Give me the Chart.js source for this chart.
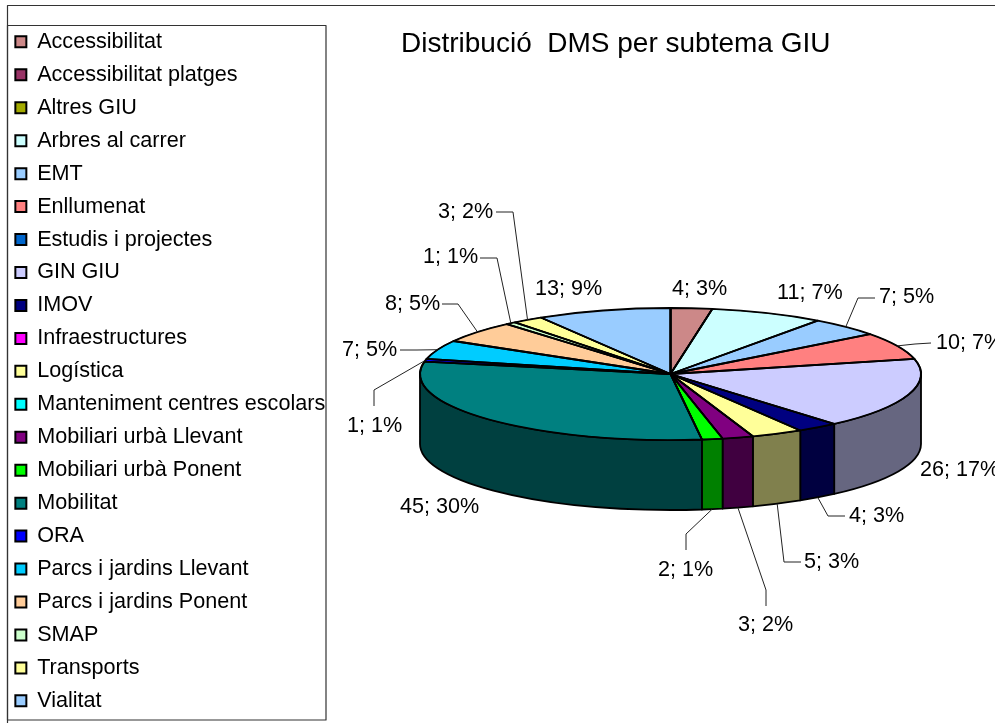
<!DOCTYPE html>
<html lang="ca">
<head>
<meta charset="utf-8">
<title>Distribució DMS per subtema GIU</title>
<script src="https://cdn.jsdelivr.net/npm/chart.js@4"></script>
<style>
html,body{margin:0;padding:0;background:#fff;overflow:hidden}
canvas{display:block}
</style>
</head>
<body>
<canvas id="c" width="995" height="723"></canvas>
<script>
const chartTitle = "Distribució  DMS per subtema GIU";
const categories = ["Accessibilitat","Accessibilitat platges","Altres GIU","Arbres al carrer","EMT","Enllumenat","Estudis i projectes","GIN GIU","IMOV","Infraestructures","Logística","Manteniment centres escolars","Mobiliari urbà Llevant","Mobiliari urbà Ponent","Mobilitat","ORA","Parcs i jardins Llevant","Parcs i jardins Ponent","SMAP","Transports","Vialitat"];
const values = [4,0,0,11,7,10,0,26,4,0,5,0,3,2,45,1,7,8,1,3,13];
const colors = ["#CC8888","#993366","#A3AA00","#CCFFFF","#99CCFF","#FF8080","#0066CC","#CCCCFF","#000080","#FF00FF","#FFFF99","#00FFFF","#800080","#00FF00","#008080","#0000FF","#00CCFF","#FFCC99","#CCFFCC","#FFFF99","#99CCFF"];

// Placement of the data labels: text start, text middle, optional leader (text side, elbow)
const labelPlacement = {
  "Accessibilitat":{x:672,y:289},
  "Arbres al carrer":{x:777,y:293},
  "EMT":{x:879,y:297,from:[875,298],elbow:[858,298]},
  "Enllumenat":{x:936,y:343,from:[931,343],elbow:[915,344]},
  "GIN GIU":{x:920,y:470},
  "IMOV":{x:849,y:516,from:[845,516],elbow:[828,516]},
  "Logística":{x:804,y:562,from:[801,562],elbow:[784,562]},
  "Mobiliari urbà Llevant":{x:738,y:625,from:[766,606],elbow:[766,590]},
  "Mobiliari urbà Ponent":{x:658,y:570,from:[686,550],elbow:[686,534]},
  "Mobilitat":{x:400,y:507},
  "ORA":{x:347,y:426,from:[374,406],elbow:[374,390]},
  "Parcs i jardins Llevant":{x:342,y:350,from:[400,350],elbow:[417,350]},
  "Parcs i jardins Ponent":{x:385,y:304,from:[442,304],elbow:[458,304]},
  "SMAP":{x:423,y:257,from:[480,258],elbow:[497,258]},
  "Transports":{x:438,y:212,from:[496,212],elbow:[513,212]},
  "Vialitat":{x:535,y:289}
};

const FONT = '"Liberation Sans", Arial, sans-serif';
const PIE = {cx:670.5, cy:374, rx:250.5, ry:66, depth:70};

function halfTone(hex){
  const n = parseInt(hex.slice(1),16);
  const c = s => Math.round(((n>>s)&255)/2);
  return `rgb(${c(16)},${c(8)},${c(0)})`;
}

const pie3d = {
  id:'pie3d',
  beforeDatasetsDraw(chart){
    const ctx = chart.ctx, arcs = chart.getDatasetMeta(0).data;
    const {cx,cy,rx,ry,depth} = PIE;
    // side wall of the visible front half
    arcs.forEach((arc,i)=>{
      if(!values[i]) return;
      const a = Math.max(arc.startAngle,0), b = Math.min(arc.endAngle,Math.PI);
      if(b<=a) return;
      ctx.beginPath();
      ctx.ellipse(cx,cy,rx,ry,0,a,b);
      ctx.ellipse(cx,cy+depth,rx,ry,0,b,a,true);
      ctx.closePath();
      ctx.fillStyle = halfTone(colors[i]);
      ctx.fill();
      ctx.lineWidth = 1.8; ctx.strokeStyle = '#000'; ctx.lineJoin='round';
      ctx.stroke();
    });
    const a0 = arcs[0];
    ctx.save();
    ctx.translate(cx,cy);
    ctx.scale(1,ry/rx);
    ctx.translate(-a0.x,-a0.y);
  },
  afterDatasetsDraw(chart){
    const ctx = chart.ctx, arcs = chart.getDatasetMeta(0).data;
    ctx.restore();
    const {cx,cy,rx,ry,depth} = PIE;
    // even-width outline for the flattened top face
    arcs.forEach((arc,i)=>{
      if(!values[i]) return;
      ctx.beginPath();
      ctx.moveTo(cx,cy);
      ctx.ellipse(cx,cy,rx,ry,0,arc.startAngle,arc.endAngle);
      ctx.closePath();
      ctx.lineWidth = 1.8; ctx.strokeStyle='#000'; ctx.lineJoin='round';
      ctx.stroke();
    });
    // labels and leader lines
    const total = values.reduce((s,v)=>s+v,0);
    ctx.font = '21.6px '+FONT;
    ctx.textAlign='left'; ctx.textBaseline='middle'; ctx.fillStyle='#000';
    arcs.forEach((arc,i)=>{
      if(!values[i]) return;
      const p = labelPlacement[categories[i]];
      ctx.fillText(`${values[i]}; ${Math.round(values[i]/total*100)}%`,p.x,p.y);
      if(p.from){
        const m = (arc.startAngle+arc.endAngle)/2;
        const ex = cx+rx*Math.cos(m);
        let ey = cy+ry*Math.sin(m);
        if(Math.sin(m)>0) ey += depth;
        ctx.beginPath();
        ctx.moveTo(p.from[0],p.from[1]);
        ctx.lineTo(p.elbow[0],p.elbow[1]);
        ctx.lineTo(ex,ey);
        ctx.lineWidth=1; ctx.strokeStyle='#222';
        ctx.stroke();
      }
    });
  },
  afterDraw(chart){
    const ctx = chart.ctx;
    ctx.save();
    ctx.strokeStyle='#333'; ctx.lineWidth=1.2;
    ctx.beginPath();
    ctx.moveTo(995,5.5); ctx.lineTo(7.5,5.5); ctx.lineTo(7.5,723);
    ctx.stroke();
    ctx.strokeRect(7.5,25.5,318.5,694.5);
    ctx.font='28px '+FONT;
    ctx.fillStyle='#000'; ctx.textAlign='left'; ctx.textBaseline='middle';
    ctx.fillText(chartTitle,401,44);
    ctx.restore();
  }
};

new Chart(document.getElementById('c'),{
  type:'pie',
  data:{labels:categories,datasets:[{data:values,backgroundColor:colors,borderColor:'#000',borderWidth:2}]},
  plugins:[pie3d],
  options:{
    responsive:false,
    animation:false,
    radius:PIE.rx,
    layout:{padding:{left:4,bottom:0}},
    plugins:{
      tooltip:{enabled:false},
      legend:{
        position:'left',
        align:'end',
        labels:{
          boxWidth:11,boxHeight:11,padding:11.35,color:'#000',
          font:{family:FONT,size:21.6}
        }
      }
    }
  }
});
</script>
</body>
</html>
